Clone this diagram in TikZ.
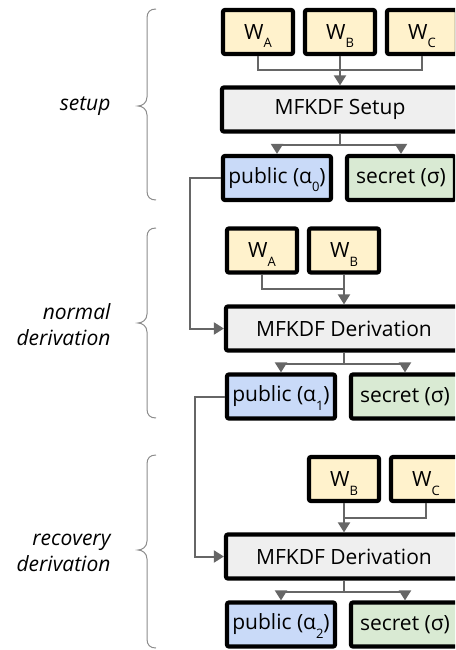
\documentclass[tikz,border=0pt]{standalone}
\usepackage{fontspec}
\setmainfont{Open Sans}
\usetikzlibrary{arrows.meta}
\definecolor{wyellow}{HTML}{FFF2CC}
\definecolor{bgray}{HTML}{EFEFEF}
\definecolor{pblue}{HTML}{C9DAF8}
\definecolor{sgreen}{HTML}{D9EAD3}
\definecolor{cgray}{HTML}{666666}
\definecolor{bracegray}{HTML}{8C8C8C}
\newcommand\subt[1]{\smash{\raisebox{-8.5pt}{\fontsize{13}{13}\selectfont #1}}}
\begin{document}
\begin{tikzpicture}[x=1pt,y=-1pt,
  box/.style={draw=black,line width=4.2pt,rounded corners=2pt,minimum height=44pt,inner sep=0pt,font=\fontsize{21}{25}\selectfont,text=black},
  wbox/.style={box,fill=wyellow,minimum width=70pt},
  bigbox/.style={box,fill=bgray,minimum width=236pt},
  pubbox/.style={box,fill=pblue,minimum width=108pt},
  secbox/.style={box,fill=sgreen,minimum width=108pt},
  conn/.style={draw=cgray,line width=2pt},
  arr/.style={conn,-{Triangle[length=10pt,width=12pt]}},
  brace/.style={draw=bracegray,line width=1pt},
  lab/.style={anchor=east,align=right,font=\fontsize{21}{26}\selectfont\itshape,text=black}
]
\useasboundingbox (0,0) rectangle (455,650);
\clip (0,0) rectangle (455,650);

% section 1
\node[wbox] (wa1) at (258,32) {W\subt{A}};
\node[wbox] (wb1) at (340,32) {W\subt{B}};
\node[wbox] (wc1) at (422,32) {W\subt{C}};
\node[bigbox] (setup) at (340,109.5) {MFKDF Setup};
\node[pubbox] (pub0) at (277,178) {public (α\subt{0})};
\node[secbox] (sec0) at (401,178) {secret (σ)};

% section 2
\node[wbox] (wa2) at (262,250.5) {W\subt{A}};
\node[wbox] (wb2) at (344,250.5) {W\subt{B}};
\node[bigbox] (der1) at (344,328.5) {MFKDF Derivation};
\node[pubbox] (pub1) at (281,396.5) {public (α\subt{1})};
\node[secbox] (sec1) at (405,396.5) {secret (σ)};

% section 3
\node[wbox] (wb3) at (344,479) {W\subt{B}};
\node[wbox] (wc3) at (426,479) {W\subt{C}};
\node[bigbox] (der2) at (344,556.5) {MFKDF Derivation};
\node[pubbox] (pub2) at (281,624.5) {public (α\subt{2})};
\node[secbox] (sec2) at (405,624.5) {secret (σ)};

% connectors section 1
\coordinate (j1) at (340,70);
\draw[conn] (wa1.south) |- (j1) -| (wc1.south);
\draw[arr] (wb1.south) -- (setup.north);
\draw[conn] (setup.south) -- ++(0,11) coordinate (s1);
\draw[arr] (s1) -| (pub0.north);
\draw[arr] (s1) -| (sec0.north);
\draw[arr] (pub0.west) -- ++(-31,0) |- (der1.west);

% connectors section 2
\coordinate (j2) at (344,289);
\draw[conn] (wa2.south) |- (j2);
\draw[arr] (wb2.south) -- (der1.north);
\draw[conn] (der1.south) -- ++(0,11) coordinate (s2);
\draw[arr] (s2) -| (pub1.north);
\draw[arr] (s2) -| (sec1.north);
\draw[arr] (pub1.west) -- ++(-30,0) |- (der2.west);

% connectors section 3
\coordinate (j3) at (344,518);
\draw[conn] (wc3.south) |- (j3);
\draw[arr] (wb3.south) -- (der2.north);
\draw[conn] (der2.south) -- ++(0,11) coordinate (s3);
\draw[arr] (s3) -| (pub2.north);
\draw[arr] (s3) -| (sec2.north);

% braces
\draw[brace] (156,9) .. controls (150,9) and (147,12) .. (147,18) -- (147,97) .. controls (147,103) and (142,106) .. (138,106) .. controls (142,106) and (147,109) .. (147,115) -- (147,191) .. controls (147,197) and (150,200) .. (156,200);
\draw[brace] (156,228) .. controls (150,228) and (147,231) .. (147,237) -- (147,314) .. controls (147,320) and (142,323) .. (138,323) .. controls (142,323) and (147,326) .. (147,332) -- (147,409) .. controls (147,415) and (150,418) .. (156,418);
\draw[brace] (156,455) .. controls (150,455) and (147,458) .. (147,464) -- (147,541) .. controls (147,547) and (142,550) .. (138,550) .. controls (142,550) and (147,553) .. (147,559) -- (147,639) .. controls (147,645) and (150,648) .. (156,648);

% labels
\node[lab] (l1) at (114,106) {setup};
\node[lab] (l2) at (114,325) {normal\\derivation};
\node[lab] (l3) at (114,553) {recovery\\derivation};
\end{tikzpicture}
\end{document}
